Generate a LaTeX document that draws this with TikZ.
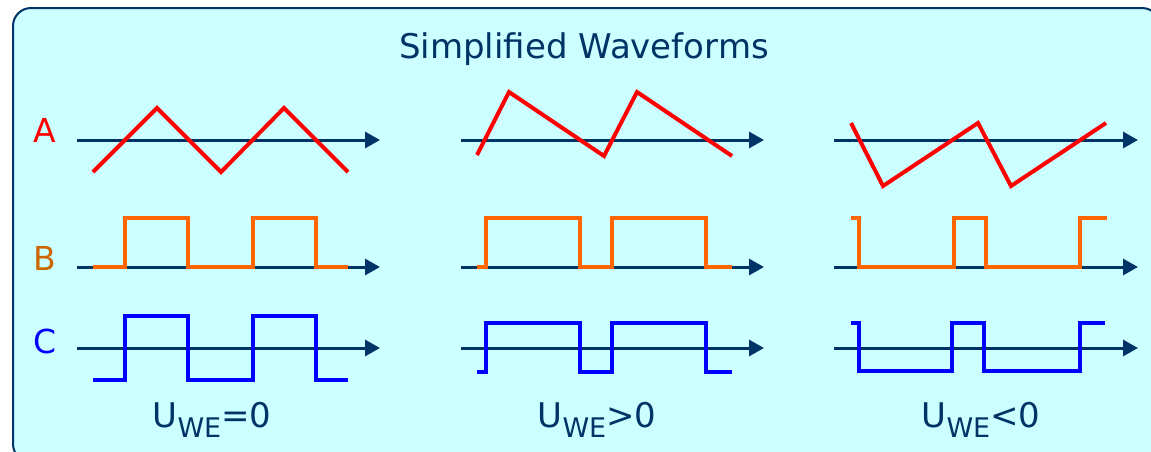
\documentclass[tikz,border=0pt]{standalone}
\usepackage{fontspec}
\setmainfont{DejaVu Sans}
\usetikzlibrary{arrows.meta}
\definecolor{navy}{HTML}{003366}
\definecolor{bgc}{HTML}{CCFFFF}
\definecolor{sigA}{HTML}{FF0000}
\definecolor{sigB}{HTML}{FF6600}
\definecolor{labB}{HTML}{CC6600}
\definecolor{sigC}{HTML}{0000FF}
\tikzset{
  axis/.style={navy, line width=3pt, -{Triangle[length=15pt,width=16pt]}},
  wavA/.style={sigA, line width=4pt},
  wavB/.style={sigB, line width=4pt},
  wavC/.style={sigC, line width=4pt},
  rowlab/.style={font=\fontsize{33}{33}\selectfont, anchor=base},
  condlab/.style={navy, font=\fontsize{34}{34}\selectfont, anchor=base},
}
\newcommand{\uwe}[1]{U\raisebox{-10pt}{\fontsize{27pt}{27pt}\selectfont WE}#1}
\begin{document}
\begin{tikzpicture}[x=1pt,y=-1pt]
\useasboundingbox (0,0) rectangle (1151,451);
\begin{scope}
\clip (0,0) rectangle (1151,451);
\draw[navy, line width=2pt, fill=bgc, rounded corners=18pt] (13,8) rectangle (1160,462);
\end{scope}
\node[navy, font=\fontsize{34}{34}\selectfont, anchor=base] (title) at (584,58) {Simplified Waveforms};
\node[rowlab, sigA] (labA) at (45,142) {A};
\node[rowlab, labB] (labB) at (45,270) {B};
\node[rowlab, sigC] (labC) at (45,353) {C};
% panel 1
\begin{scope}
\coordinate (p1a0) at (77,140); \coordinate (p1a1) at (380,140);
\coordinate (p1b0) at (77,267); \coordinate (p1b1) at (380,267);
\coordinate (p1c0) at (77,348); \coordinate (p1c1) at (380,348);
\draw[axis] (p1a0) -- (p1a1);
\draw[axis] (p1b0) -- (p1b1);
\draw[axis] (p1c0) -- (p1c1);
\draw[wavA] (93,172)--(157,108)--(221,172)--(284,108)--(348,172);
\draw[wavB] (93,267)--(125,267)--(125,218)--(188,218)--(188,267)--(253,267)--(253,218)--(316,218)--(316,267)--(348,267);
\draw[wavC] (93,380)--(125,380)--(125,316)--(188,316)--(188,380)--(253,380)--(253,316)--(316,316)--(316,380)--(348,380);
\node[condlab] (c1) at (212,427) {\uwe{=0}};
\end{scope}
% panel 2
\begin{scope}[xshift=384pt]
\coordinate (p2a0) at (77,140); \coordinate (p2a1) at (380,140);
\coordinate (p2b0) at (77,267); \coordinate (p2b1) at (380,267);
\coordinate (p2c0) at (77,348); \coordinate (p2c1) at (380,348);
\draw[axis] (p2a0) -- (p2a1);
\draw[axis] (p2b0) -- (p2b1);
\draw[axis] (p2c0) -- (p2c1);
\draw[wavA] (93,155)--(125,92)--(220,156)--(253,92)--(348,156);
\draw[wavB] (93,267)--(102,267)--(102,218)--(196,218)--(196,267)--(228,267)--(228,218)--(322,218)--(322,267)--(348,267);
\draw[wavC] (93,372)--(102,372)--(102,323)--(196,323)--(196,372)--(228,372)--(228,323)--(322,323)--(322,372)--(348,372);
\node[condlab] (c2) at (213,427) {\uwe{>0}};
\end{scope}
% panel 3
\begin{scope}[xshift=757pt]
\coordinate (p3a0) at (77,140); \coordinate (p3a1) at (381,140);
\coordinate (p3b0) at (77,267); \coordinate (p3b1) at (381,267);
\coordinate (p3c0) at (77,348); \coordinate (p3c1) at (381,348);
\draw[axis] (p3a0) -- (p3a1);
\draw[axis] (p3b0) -- (p3b1);
\draw[axis] (p3c0) -- (p3c1);
\draw[wavA] (94,123)--(126,186)--(221,123)--(254,186)--(349,123);
\draw[wavB] (94,218)--(102,218)--(102,267)--(197,267)--(197,218)--(229,218)--(229,267)--(323,267)--(323,218)--(350,218);
\draw[wavC] (94,323)--(102,323)--(102,371)--(195,371)--(195,323)--(227,323)--(227,371)--(323,371)--(323,323)--(348,323);
\node[condlab] (c3) at (224,427) {\uwe{<0}};
\end{scope}
\end{tikzpicture}
\end{document}
